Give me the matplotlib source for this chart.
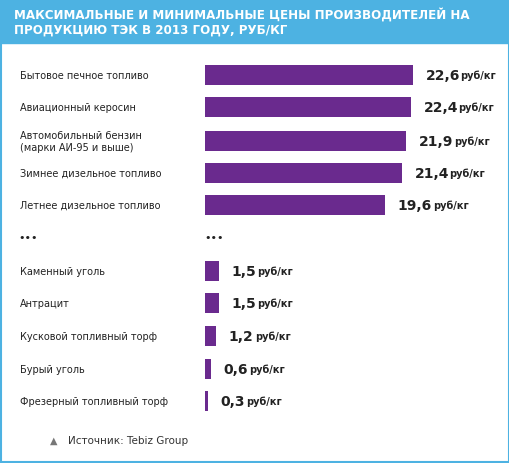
import matplotlib.pyplot as plt
from matplotlib.patches import Rectangle

labels = ["Бытовое печное топливо", "Авиационный керосин",
          "Автомобильный бензин\n(марки АИ-95 и выше)", "Зимнее дизельное топливо",
          "Летнее дизельное топливо", "Каменный уголь", "Антрацит",
          "Кусковой топливный торф", "Бурый уголь", "Фрезерный топливный торф"]
values = [22.6, 22.4, 21.9, 21.4, 19.6, 1.5, 1.5, 1.2, 0.6, 0.3]
value_text = ["22,6", "22,4", "21,9", "21,4", "19,6", "1,5", "1,5", "1,2", "0,6", "0,3"]
rows = [76, 108, 142, 174, 206, 272, 304, 337, 370, 402]

W, H = 510, 464
purple = "#6a2a8e"
blue = "#4db2e2"

fig = plt.figure(figsize=(W / 100, H / 100), dpi=100)
fig.patch.set_facecolor("white")

# frame + header band
bg = fig.add_axes([0, 0, 1, 1])
bg.set_xlim(0, W)
bg.set_ylim(H, 0)
bg.axis("off")
bg.add_patch(Rectangle((1, 1), W - 2, H - 2, fill=False, ec=blue, lw=1.5))
bg.add_patch(Rectangle((0, 0), W, 44, color=blue))
bg.text(14, 22, "МАКСИМАЛЬНЫЕ И МИНИМАЛЬНЫЕ ЦЕНЫ ПРОИЗВОДИТЕЛЕЙ НА\nПРОДУКЦИЮ ТЭК В 2013 ГОДУ, РУБ/КГ",
        color="white", fontsize=8.6, fontweight="bold", va="center", linespacing=1.25)
for y, lab in zip(rows, labels):
    bg.text(20, y, lab, fontsize=7, va="center", color="#222222", linespacing=1.3)
bg.text(18, 238, "•••", fontsize=8, va="center", color="#222222")
bg.text(204, 238, "•••", fontsize=8, va="center", color="#222222")
bg.text(50, 441, "▲", fontsize=7, va="center", color="#777777")
bg.text(68, 441, "Источник: Tebiz Group", fontsize=7.5, va="center", color="#333333")

# bars
ax = fig.add_axes([205 / W, 0, 1 - 205 / W, 1])
ax.set_xlim(0, (W - 205) / 9.2)
ax.set_ylim(H, 0)
ax.axis("off")
ax.barh(rows, values, height=20, color=purple)
for y, v, t in zip(rows, values, value_text):
    ax.annotate(t, (v, y), xytext=(9, 0), textcoords="offset points", va="center",
                fontsize=10, fontweight="bold", color="#222222")
    ax.annotate("руб/кг", (v, y), xytext=(9 + 6.3 * len(t), 0), textcoords="offset points",
                va="center", fontsize=7, fontweight="bold", color="#222222")

fig.savefig("out.png", dpi=100)
